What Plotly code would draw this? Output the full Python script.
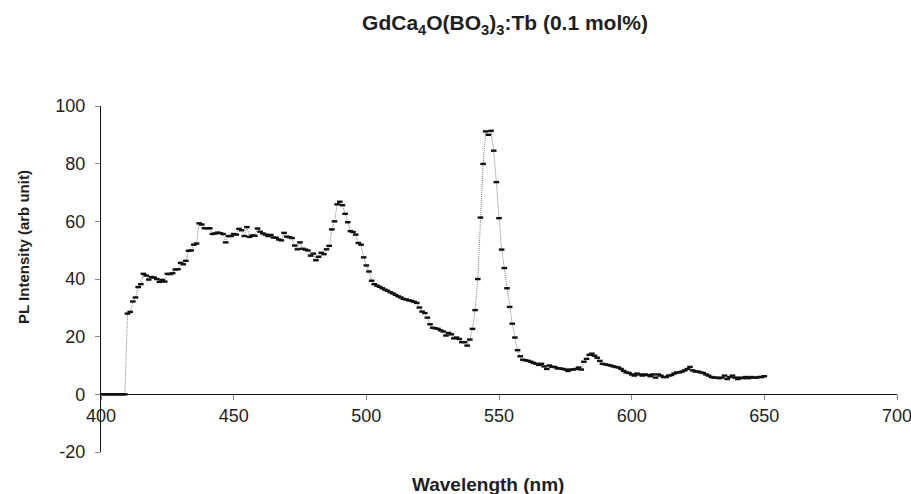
import plotly.graph_objects as go

# ---- data -------------------------------------------------------------
wavelength_start = 400
wavelength_end = 650
intensity = [
    # 400-409
    0, 0, 0, 0, 0, 0, 0, 0, 0, 0,
    # 410-439
    28.0, 28.6, 32.2, 33.6, 37.2, 38.2, 41.8, 41.2, 39.8, 40.7,
    40.5, 40.0, 39.0, 39.7, 39.1, 41.8, 41.7, 42.0, 43.3, 43.4,
    45.6, 45.1, 46.3, 49.8, 49.9, 51.9, 52.3, 59.3, 58.9, 57.6,
    # 440-469
    57.6, 57.6, 55.6, 55.8, 56.1, 55.9, 55.6, 52.7, 54.9, 54.9,
    55.6, 55.4, 57.4, 56.9, 54.9, 58.0, 54.6, 55.1, 55.0, 57.5,
    56.4, 55.8, 55.4, 54.9, 55.3, 54.4, 54.3, 53.7, 53.4, 56.0,
    # 470-499
    54.7, 54.5, 54.2, 51.6, 50.3, 52.7, 50.5, 50.2, 49.9, 48.1,
    48.8, 46.5, 47.7, 49.1, 48.6, 50.3, 51.5, 57.2, 60.0, 65.9,
    66.8, 65.6, 62.6, 59.7, 56.6, 56.3, 55.4, 52.5, 51.9, 47.5,
    # 500-529
    44.7, 42.6, 39.4, 38.2, 37.7, 37.3, 36.8, 36.3, 35.9, 35.4,
    35.0, 34.5, 34.0, 33.6, 33.1, 32.9, 32.6, 32.4, 32.1, 31.7,
    30.1, 28.7, 28.2, 26.6, 24.3, 23.1, 22.9, 22.7, 22.2, 21.8,
    # 530-559
    20.4, 21.3, 20.8, 19.4, 19.7, 19.2, 18.1, 18.1, 16.9, 19.0,
    22.7, 29.2, 40.0, 61.3, 79.9, 91.2, 90.0, 91.4, 84.5, 73.6,
    61.1, 50.2, 43.8, 36.8, 30.3, 24.5, 19.7, 15.3, 13.2, 12.0,
    # 560-589
    11.8, 11.6, 11.3, 10.9, 10.6, 10.2, 10.6, 9.7, 8.8, 10.0,
    9.5, 9.5, 9.0, 9.0, 8.8, 8.6, 8.1, 8.6, 8.6, 8.8,
    9.3, 8.6, 11.3, 12.3, 13.7, 14.1, 13.4, 12.7, 11.6, 10.6,
    # 590-619
    10.4, 10.2, 10.0, 9.7, 9.5, 9.3, 8.8, 8.1, 7.6, 7.4,
    6.9, 6.5, 7.2, 6.9, 6.5, 6.9, 6.7, 6.3, 6.9, 5.8,
    6.9, 6.5, 6.0, 6.0, 6.5, 6.7, 7.2, 7.6, 7.6, 7.9,
    # 620-650
    8.3, 8.8, 9.5, 8.3, 7.9, 7.9, 7.6, 7.4, 6.9, 6.5,
    6.0, 5.8, 5.8, 5.6, 5.8, 6.5, 5.3, 6.0, 6.5, 5.8,
    5.3, 5.8, 5.6, 6.0, 5.6, 6.0, 5.8, 5.8, 6.0, 6.0,
    6.3,
]
wavelength = list(range(wavelength_start, wavelength_end + 1))
assert len(wavelength) == len(intensity)

x_ticks = [400, 450, 500, 550, 600, 650, 700]
y_ticks = [-20, 0, 20, 40, 60, 80, 100]

title_text = "GdCa<sub>4</sub>O(BO<sub>3</sub>)<sub>3</sub>:Tb (0.1 mol%)"
x_title = "Wavelength (nm)"
y_title = "PL Intensity (arb unit)"

# ---- figure -----------------------------------------------------------
FONT = "Liberation Sans, Arial, sans-serif"
TXT = "#1e1e1e"

fig = go.Figure()
fig.add_trace(go.Scatter(
    x=wavelength, y=intensity, mode="lines+markers",
    line=dict(color="#808080", width=1, dash="1px,1px"),
    marker=dict(symbol="line-ew", size=4,
                line=dict(color="#111111", width=2.4)),
    showlegend=False, hoverinfo="x+y",
))

fig.update_layout(
    width=911, height=494,
    margin=dict(l=101, r=14, t=106, b=42, autoexpand=False),
    paper_bgcolor="white", plot_bgcolor="white",
    font=dict(family=FONT, size=18, color=TXT),
    title=dict(text=title_text, xref="container", yref="container",
               x=505 / 911, y=1 - 23 / 494, xanchor="center", yanchor="middle",
               font=dict(family=FONT, size=21, color=TXT, weight="bold")),
    xaxis=dict(range=[400, 700], tickvals=x_ticks, ticktext=[str(v) for v in x_ticks],
               anchor="free", position=20 / 120, ticklabeloverflow="allow",
               automargin=False,
               showline=True, linecolor="#111111", linewidth=1.3,
               ticks="outside", ticklen=5, tickcolor="#888888", tickwidth=1,
               showgrid=False, zeroline=False,
               tickfont=dict(family=FONT, size=18, color=TXT)),
    yaxis=dict(range=[-20, 100], tickvals=y_ticks, ticktext=[str(v) for v in y_ticks],
               automargin=False,
               showline=True, linecolor="#111111", linewidth=1.3,
               ticks="outside", ticklen=5, tickcolor="#888888", tickwidth=1,
               ticklabelstandoff=6,
               showgrid=False, zeroline=False,
               tickfont=dict(family=FONT, size=18, color=TXT)),
    annotations=[
        dict(text="<b>" + x_title + "</b>", xref="paper", yref="paper",
             x=(488 - 101) / 796, y=-(484 - 452) / 346,
             xanchor="center", yanchor="middle", showarrow=False,
             font=dict(family=FONT, size=19, color=TXT)),
        dict(text="<b>" + y_title + "</b>", xref="paper", yref="paper",
             x=(23 - 101) / 796, y=(452 - 247) / 346, textangle=-90,
             xanchor="center", yanchor="middle", showarrow=False,
             font=dict(family=FONT, size=15, color=TXT)),
    ],
)

fig.write_html("out.html", config={"displayModeBar": False},
               post_script="document.body.style.margin='0';document.body.style.overflow='hidden';")
